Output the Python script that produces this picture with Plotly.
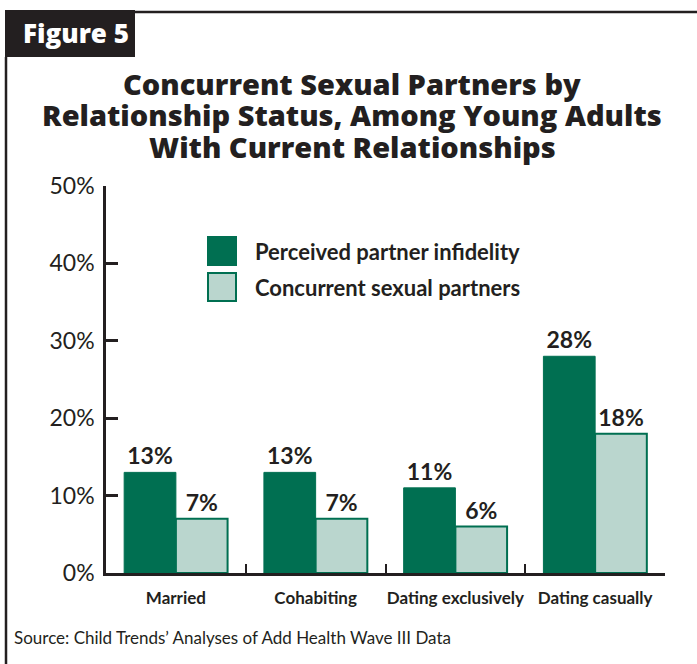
import plotly.graph_objects as go

categories = ["Married", "Cohabiting", "Dating exclusively", "Dating casually"]
series_names = ["Perceived partner infidelity", "Concurrent sexual partners"]
infidelity = [13, 13, 11, 28]
concurrent = [7, 7, 6, 18]
y_ticks = [0, 10, 20, 30, 40, 50]
y_tick_labels = ["0%", "10%", "20%", "30%", "40%", "50%"]
title_lines = ["Concurrent Sexual Partners by",
               "Relationship Status, Among Young Adults",
               "With Current Relationships"]
figure_label = "Figure 5"
source_text = "Source: Child Trends\u2019 Analyses of Add Health Wave III Data"

W, H = 697, 664
DARK = "#006F51"
LIGHT = "#BAD6CE"
INK = "#231F20"
FONT = "Lato"
TFONT = "Open Sans"

def px(x):
    return x / W

def py(y):
    return 1 - y / H

fig = go.Figure()
fig.add_trace(go.Bar(
    x=categories, y=infidelity, name=series_names[0],
    marker=dict(color=DARK, line=dict(color=DARK, width=1)),
    texttemplate="%{y}%", textposition="outside",
    textfont=dict(family=FONT, size=23, color=INK, weight="bold"),
    cliponaxis=False,
))
fig.add_trace(go.Bar(
    x=categories, y=concurrent, name=series_names[1],
    marker=dict(color=LIGHT, line=dict(color=DARK, width=2)),
    texttemplate="%{y}%", textposition="outside",
    textfont=dict(family=FONT, size=23, color=INK, weight="bold"),
    cliponaxis=False,
))

shapes = []
annotations = []
# frame
shapes.append(dict(type="line", xref="paper", yref="paper", x0=px(135), x1=px(697),
                   y0=py(12), y1=py(12), line=dict(color=INK, width=2.5)))
shapes.append(dict(type="line", xref="paper", yref="paper", x0=px(6), x1=px(6),
                   y0=py(57), y1=py(664), line=dict(color=INK, width=2.5)))
shapes.append(dict(type="rect", xref="paper", yref="paper", x0=px(5), x1=px(135),
                   y0=py(57), y1=py(10), fillcolor=INK, line=dict(width=0)))
annotations.append(dict(text=figure_label, xref="paper", yref="paper", x=px(76), y=py(33),
                        xanchor="center", yanchor="middle", showarrow=False,
                        font=dict(family=TFONT, size=26, color="white", weight=800)))
# title
for i, line in enumerate(title_lines):
    annotations.append(dict(text=line, xref="paper", yref="paper", x=px(352), y=py(83 + 32 * i),
                            xanchor="center", yanchor="middle", showarrow=False,
                            font=dict(family=TFONT, size=29, color=INK, weight=800)))
# legend
legend_colors = [(DARK, DARK), (LIGHT, DARK)]
for i, (name, (fc, lc)) in enumerate(zip(series_names, legend_colors)):
    yc = 251 + 36 * i
    shapes.append(dict(type="rect", xref="paper", yref="paper", x0=px(208), x1=px(236),
                       y0=py(yc - 14), y1=py(yc + 14), fillcolor=fc,
                       line=dict(color=lc, width=2)))
    annotations.append(dict(text=name, xref="paper", yref="paper", x=px(253), y=py(yc),
                            xanchor="left", yanchor="middle", showarrow=False,
                            font=dict(family=FONT, size=22, color=INK, weight="bold")))
# source
annotations.append(dict(text=source_text, xref="paper", yref="paper", x=px(12), y=py(637),
                        xanchor="left", yanchor="middle", showarrow=False,
                        font=dict(family=FONT, size=17, color=INK)))

fig.update_layout(
    width=W, height=H,
    margin=dict(l=0, r=0, t=0, b=0),
    paper_bgcolor="white", plot_bgcolor="white",
    barmode="group", bargap=0.26, bargroupgap=0,
    showlegend=False,
    shapes=shapes, annotations=annotations,
    xaxis=dict(domain=[px(106), px(665)], range=[-0.5, 3.5],
               showline=True, linecolor=INK, linewidth=2.5,
               ticks="inside", tickson="boundaries", ticklen=9, tickwidth=2, tickcolor=INK,
               tickfont=dict(family=FONT, size=17, color=INK, weight="bold"),
               tickangle=0,
               ticklabelstandoff=8, showgrid=False, zeroline=False, automargin=False),
    yaxis=dict(domain=[py(573), py(186)], range=[0, 50],
               tickvals=y_ticks, ticktext=y_tick_labels,
               showline=True, linecolor=INK, linewidth=2.5,
               ticks="inside", ticklen=12, tickwidth=2.5, tickcolor=INK,
               tickfont=dict(family=FONT, size=23, color=INK),
               ticklabelstandoff=4, showgrid=False, zeroline=False, automargin=False),
)

fig.write_html("out.html", config={"displayModeBar": False},
               post_script="document.body.style.margin='0px';")
